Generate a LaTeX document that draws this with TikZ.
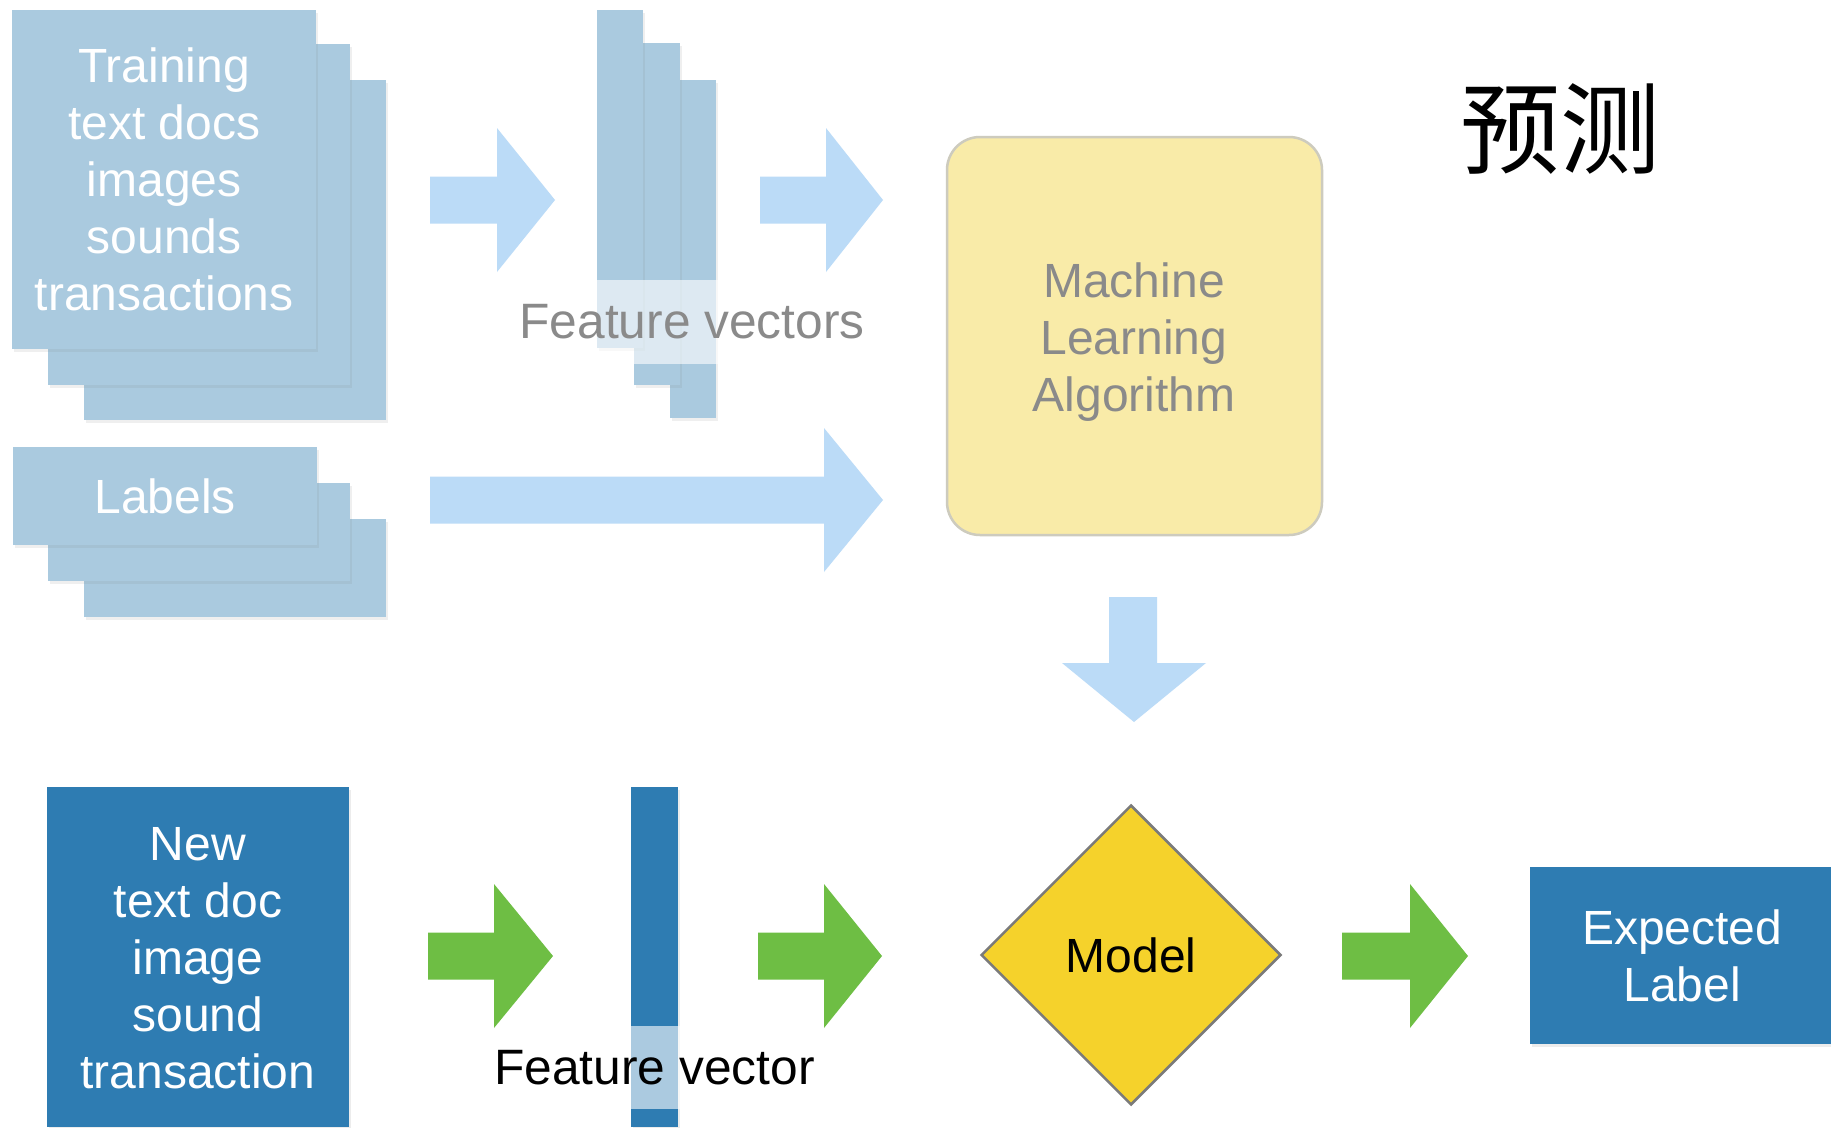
\documentclass[tikz,border=0pt]{standalone}
\usepackage{fontspec}
\setmainfont{Liberation Sans}
\newfontfamily\cjkfont{Noto Sans CJK SC}
\usetikzlibrary{shapes.geometric,shadows}
\definecolor{sheetcol}{RGB}{170,202,223}
\definecolor{lightarrow}{RGB}{187,219,247}
\definecolor{darkblue}{RGB}{46,124,178}
\definecolor{greenarrow}{RGB}{110,190,68}
\definecolor{mlfill}{RGB}{249,235,168}
\definecolor{mlborder}{RGB}{205,203,190}
\definecolor{graytext}{RGB}{138,138,138}
\definecolor{modelfill}{RGB}{245,210,43}
\definecolor{modelborder}{RGB}{122,122,122}
\newcommand{\blockR}[5]{% style, x start, x head base, x tip, y centre
  \fill[#1] (#2,#5-23.5) -- (#3,#5-23.5) -- (#3,#5-72) -- (#4,#5)
     -- (#3,#5+72) -- (#3,#5+23.5) -- (#2,#5+23.5) -- cycle;}
\tikzset{
  bigtext/.style={font=\fontsize{48}{57}\selectfont, align=center},
  sheetbox/.style={fill=sheetcol, inner sep=0pt, anchor=north west,
     drop shadow={shadow xshift=1.5pt, shadow yshift=-2.5pt, opacity=0.12}},
  darkbox/.style={fill=darkblue, inner sep=0pt, anchor=north west,
     drop shadow={shadow xshift=1.5pt, shadow yshift=-2.5pt, opacity=0.15}},
  lightarr/.style={fill=lightarrow},
  greenarr/.style={fill=greenarrow},
  fvlabel/.style={font=\fontsize{49.7}{57}\selectfont, fill=white, fill opacity=0.6,
     text opacity=1, inner xsep=0pt, inner ysep=24.5pt},
}
\begin{document}
\begin{tikzpicture}[x=1pt,y=-1pt]
\useasboundingbox (0,0) rectangle (1831,1127);
\fill[white] (0,0) rectangle (1831,1127);

% training documents stack
\node[sheetbox, minimum width=302, minimum height=340] (train3) at (84,80) {};
\node[sheetbox, minimum width=302, minimum height=341] (train2) at (48,44) {};
\node[sheetbox, minimum width=304, minimum height=339, bigtext, text=white] (train1) at (12,10)
  {Training\\text docs\\images\\sounds\\transactions};

% labels stack
\node[sheetbox, minimum width=302, minimum height=98] (lab3) at (84,519) {};
\node[sheetbox, minimum width=302, minimum height=98] (lab2) at (48,483) {};
\node[sheetbox, minimum width=304, minimum height=98, bigtext, text=white] (lab1) at (13,447) {Labels};

% feature vectors
\node[sheetbox, minimum width=46, minimum height=338] (fv3) at (670,80) {};
\node[sheetbox, minimum width=46, minimum height=342] (fv2) at (634,43) {};
\node[sheetbox, minimum width=46, minimum height=338] (fv1) at (597,10) {};
\node[fvlabel, text=graytext] (fvtext) at (692,322) {Feature vectors};

% top arrows
\blockR{lightarr}{430}{497}{555}{200}
\blockR{lightarr}{760}{826}{883}{200}
\blockR{lightarr}{430}{824}{883}{500}

% machine learning algorithm
\node[draw=mlborder, line width=2.5pt, fill=mlfill, rounded corners=33pt,
      minimum width=375, minimum height=398, inner sep=0pt] (ml) at (1134.5,336) {};
\node[bigtext, text=graytext] (mltext) at (1134,342) {Machine\\Learning\\Algorithm};

% down arrow
\fill[lightarr] (1109,597) -- (1157,597) -- (1157,663) -- (1206,663) -- (1134,722)
   -- (1062,663) -- (1109,663) -- cycle;

% title
\node[font=\cjkfont\fontsize{100}{110}\selectfont, text=black] (title) at (1560,129) {预测};

% bottom row
\node[darkbox, minimum width=302, minimum height=340] (newdoc) at (47,787) {};
\node[bigtext, text=white] (newtext) at (198,958) {New\\text doc\\image\\sound\\transaction};

\node[darkbox, minimum width=47, minimum height=340] (nfv) at (631,787) {};
\node[fvlabel, text=black] (nfvtext) at (654.5,1067.5) {Feature vector};

\blockR{greenarr}{428}{494}{553}{956}
\blockR{greenarr}{758}{824}{882}{956}

\node[diamond, shape aspect=1, draw=modelborder, line width=2.5pt, fill=modelfill,
      minimum width=300, minimum height=300, inner sep=0pt, bigtext, text=black] (model) at (1131,955) {Model};

\blockR{greenarr}{1342}{1410}{1468}{956}

\node[darkbox, minimum width=304, minimum height=177, bigtext, text=white] (expected) at (1530,867)
  {Expected\\Label};
\end{tikzpicture}
\end{document}
